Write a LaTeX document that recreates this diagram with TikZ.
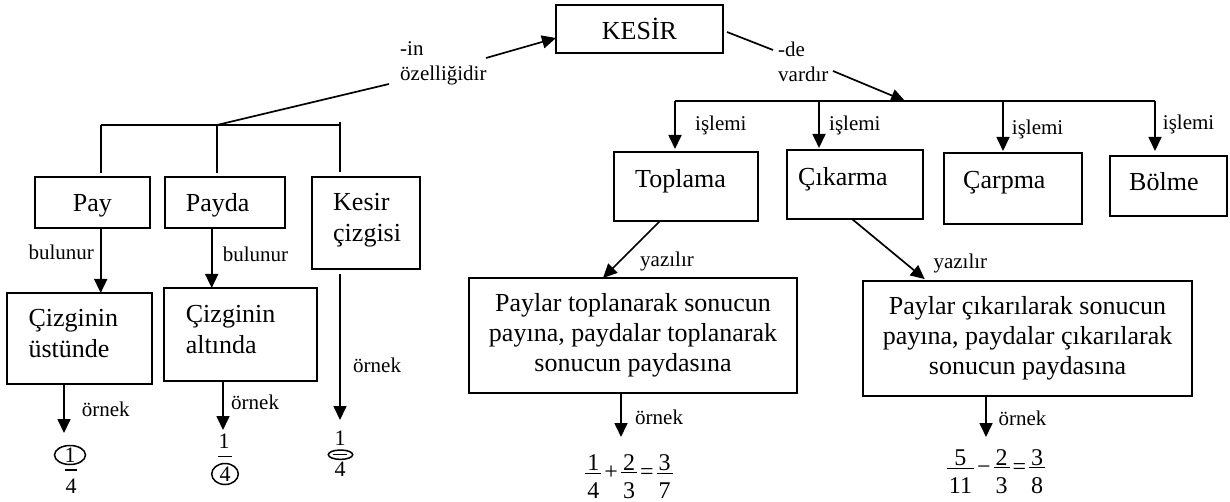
\documentclass[tikz,border=0pt]{standalone}
\usepackage{fontspec}
\setmainfont{Liberation Serif}
\usetikzlibrary{arrows.meta}
% stacked fraction whose bar sits on the math axis
\newcommand\eqfrac[2]{\vcenter{\halign{\hskip2pt\hfil##\hfil\hskip2pt\cr\noalign{\kern7pt}#1\cr\noalign{\kern2pt\hrule height 1pt\kern9pt}#2\cr}}}
\tikzset{
  box/.style={draw, line width=1.8pt, inner sep=0pt, outer sep=0pt, anchor=north west},
  txt/.style={font=\fontsize{26}{30.5}\selectfont, inner sep=0pt, anchor=base west},
  mtxt/.style={font=\fontsize{26}{30.5}\selectfont, inner sep=0pt, anchor=north west, align=left},
  lbl/.style={font=\fontsize{21}{25}\selectfont, inner sep=0pt, anchor=base west},
  frc/.style={font=\fontsize{22}{26}\selectfont, inner sep=0pt},
  eqn/.style={font=\fontsize{24}{28}\selectfont, inner sep=0pt},
  ln/.style={line width=1.7pt},
  arr/.style={ln, -{Triangle[length=14pt,width=13pt]}},
  mark ring/.style={line width=1.5pt}
}
\begin{document}
\begin{tikzpicture}[x=1pt,y=-1pt]
\fill[white] (0,0) rectangle (1230,502);

% ---------- root ----------
\node[box, minimum width=167pt, minimum height=48pt] (kesir) at (556,5) {};
\node[txt, anchor=base] (kesirT) at (639.5,40) {KESİR};

% ---------- left branch: parts of a fraction ----------
\node[lbl, anchor=north west, align=left] (inL) at (400,41.7) {-in\\özelliğidir};
\coordinate (inA) at (389,84);
\coordinate (inB) at (486,58);
\coordinate (lA) at (101,125);
\coordinate (lJ) at (217,125);
\coordinate (lC) at (340,125);
\coordinate (lCt) at (340,122);
\draw[ln] (lA) -- (lC);
\draw[ln] (lJ) -- (inA);
\draw[arr] (inB) -- ([shift={(0,9)}]kesir.west);

\node[box, minimum width=115pt, minimum height=51pt] (pay) at (35,177) {};
\node[txt] (payT) at (72.7,211.7) {Pay};
\node[box, minimum width=120pt, minimum height=51pt] (payda) at (165,177) {};
\node[txt] (paydaT) at (185.7,211.7) {Payda};
\node[box, minimum width=108pt, minimum height=92pt] (kcz) at (312,177) {};
\node[mtxt] (kczT) at (333,193.2) {Kesir\\çizgisi};

\draw[ln, shorten >=4pt] (lA) -- (lA |- pay.north);
\draw[ln, shorten >=4pt] (lJ) -- (lJ |- payda.north);
\draw[ln, shorten >=5pt] (lCt) -- (lCt |- kcz.north);

\node[box, minimum width=145pt, minimum height=91pt] (ust) at (7,293) {};
\node[mtxt] (ustT) at (28.3,309.2) {Çizginin\\üstünde};
\node[box, minimum width=153pt, minimum height=93pt] (alt) at (164,288) {};
\node[mtxt] (altT) at (185.7,305.2) {Çizginin\\altında};

\coordinate (bx1) at (100.7,0);
\coordinate (bx2) at (211.7,0);
\draw[arr] (pay.south -| bx1) -- (ust.north -| bx1);
\node[lbl] (bu1) at (28.3,259.3) {bulunur};
\draw[arr] (payda.south -| bx2) -- (alt.north -| bx2);
\node[lbl] (bu2) at (222.7,261.7) {bulunur};

\coordinate (o1) at (64,433);
\coordinate (o2) at (223,430);
\coordinate (o3) at (340,420);
\draw[arr] (ust.south -| o1) -- (o1);
\node[lbl] (or1) at (81.7,416.7) {örnek};
\draw[arr] (alt.south -| o2) -- (o2);
\node[lbl] (or2) at (231,409) {örnek};
\draw[arr, shorten <=5pt] (kcz.south -| o3) -- (o3);
\node[lbl] (or3) at (353,372.7) {örnek};

% example fractions with the marked part ringed
\node[frc] (f1n) at (70,455) {1};
\draw[mark ring] (f1n) ellipse [x radius=15.5, y radius=9.5];
\draw[line width=1.2pt] (65,470) -- (77,470);
\node[frc] (f1d) at (71,486.7) {4};

\node[frc] (f2n) at (224,441.7) {1};
\draw[line width=1.2pt] (218,456.7) -- (232,456.7);
\node[frc] (f2d) at (225,474) {4};
\draw[mark ring] (f2d) ellipse [x radius=13.3, y radius=10.5];

\node[frc] (f3n) at (340,438) {1};
\draw[line width=1.2pt] (333.3,454.7) -- (346.7,454.7);
\draw[mark ring] (340.5,454.7) ellipse [x radius=12.2, y radius=4.7];
\node[frc] (f3d) at (340,469.5) {4};

% ---------- right branch: operations ----------
\node[lbl, anchor=north west, align=left] (deL) at (778,41.7) {-de\\vardır};
\coordinate (deA) at (773,50);
\coordinate (deB) at (833,71);
\coordinate (rT) at (905,101);
\coordinate (rA) at (675,101);
\coordinate (rB) at (819,101);
\coordinate (rC) at (1003,101);
\coordinate (rD) at (1155,101);
\draw[ln] ([shift={(4,3)}]kesir.east) -- (deA);
\draw[ln] (rA) -- (rD);
\draw[arr] (deB) -- (rT);

\node[box, minimum width=144pt, minimum height=69pt] (top) at (614,152) {};
\node[txt] (topT) at (635,187.7) {Toplama};
\node[box, minimum width=136pt, minimum height=69pt] (cik) at (787,150) {};
\node[txt] (cikT) at (798,185.7) {Çıkarma};
\node[box, minimum width=138pt, minimum height=71pt] (carp) at (944,153) {};
\node[txt] (carpT) at (963,189) {Çarpma};
\node[box, minimum width=117pt, minimum height=60pt] (bol) at (1110,156) {};
\node[txt] (bolT) at (1129,190.7) {Bölme};

\draw[arr, shorten >=3pt] (rA) -- (rA |- top.north);
\draw[arr, shorten >=2pt] (rB) -- (rB |- cik.north);
\draw[arr, shorten >=2pt] (rC) -- (rC |- carp.north);
\draw[arr, shorten >=5pt] (rD) -- (rD |- bol.north);
\node[lbl] (i1) at (695,130.5) {işlemi};
\node[lbl] (i2) at (829,130.5) {işlemi};
\node[lbl] (i3) at (1011.7,134.3) {işlemi};
\node[lbl] (i4) at (1162.7,129.3) {işlemi};

\node[box, minimum width=328pt, minimum height=115pt, align=center,
      font=\fontsize{26}{30}\selectfont] (ptop) at (469,278)
      {Paylar toplanarak sonucun\\payına, paydalar toplanarak\\sonucun paydasına};
\node[box, minimum width=329pt, minimum height=115pt, align=center,
      font=\fontsize{26}{30}\selectfont] (pcik) at (863,281)
      {Paylar çıkarılarak sonucun\\payına, paydalar çıkarılarak\\sonucun paydasına};

\coordinate (yL1) at (660,0);
\coordinate (yL2) at (603,0);
\coordinate (yR1) at (852,0);
\coordinate (yR2) at (927,0);
\draw[arr] (top.south -| yL1) -- (ptop.north -| yL2);
\node[lbl] (yzL) at (640,266.7) {yazılır};
\draw[arr, shorten >=3pt] (cik.south -| yR1) -- (pcik.north -| yR2);
\node[lbl] (yzR) at (933.3,268.3) {yazılır};

\coordinate (oL) at (621,437);
\coordinate (oR) at (986,437);
\draw[arr] (ptop.south -| oL) -- (oL);
\node[lbl] (orL) at (635,424.3) {örnek};
\draw[arr] (pcik.south -| oR) -- (oR);
\node[lbl] (orR) at (998.3,425) {örnek};

\node[eqn] (eqL) at (629,473) {$\eqfrac{1}{4}\mbox{\kern3pt+\kern3pt}\eqfrac{2}{3}\mbox{\kern3pt=\kern3pt}\eqfrac{3}{7}$};
\node[eqn] (eqR) at (996,468) {$\eqfrac{5}{11}\mbox{\kern3pt−\kern3pt}\eqfrac{2}{3}\mbox{\kern3pt=\kern3pt}\eqfrac{3}{8}$};
\end{tikzpicture}
\end{document}
